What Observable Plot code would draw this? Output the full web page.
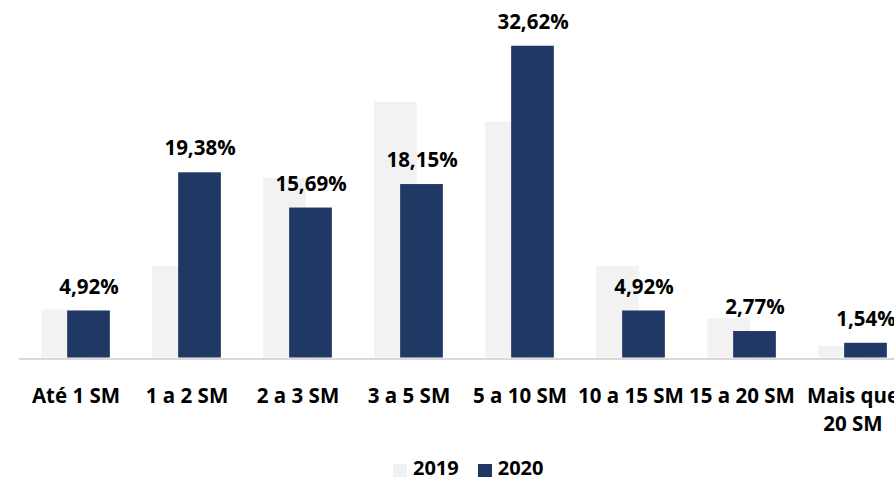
<!DOCTYPE html>
<html><head><meta charset="utf-8">
<script src="https://cdn.jsdelivr.net/npm/d3@7"></script>
<script src="https://cdn.jsdelivr.net/npm/@observablehq/plot@0.6"></script>
<style>
html,body{margin:0;padding:0;background:#fff;overflow:hidden;width:894px;height:479px;position:relative}
#chart{position:absolute;left:0;top:0}
#legend{position:absolute;left:393px;top:458px;display:flex;align-items:flex-start;font-family:"Open Sans";font-weight:700;font-size:20px;color:#000;line-height:20px;height:20px}
#legend .item{display:flex;align-items:flex-start;margin-right:19px}
#legend .sw{width:14px;height:13px;margin-top:6px;margin-right:6px}
</style></head><body>
<div id="chart"></div>
<div id="legend"></div>
<script>
const categories = ["Até 1 SM","1 a 2 SM","2 a 3 SM","3 a 5 SM","5 a 10 SM","10 a 15 SM","15 a 20 SM","Mais que 20 SM"];
const tickLabels = ["Até 1 SM","1 a 2 SM","2 a 3 SM","3 a 5 SM","5 a 10 SM","10 a 15 SM","15 a 20 SM","Mais que\n20 SM"];
const values2019 = [5.0, 9.58, 18.8, 26.75, 24.66, 9.58, 4.1, 1.2];
const values2020 = [4.92, 19.38, 15.69, 18.15, 32.62, 4.92, 2.77, 1.54];
const seriesNames = ["2019","2020"];
const seriesColors = ["#f2f2f2","#203864"];

const data2019 = categories.map((c,i)=>({cat:c, value:values2019[i]}));
const data2020 = categories.map((c,i)=>({cat:c, value:values2020[i]}));
const fmt = v => v.toFixed(2).replace(".", ",") + "%";

const chart = Plot.plot({
  width: 909, height: 440,
  marginLeft: 19, marginRight: 0, marginTop: 23, marginBottom: 82.5,
  style: {fontFamily: "Open Sans", fontSize: "20.5px", fontWeight: 700, color: "#000", background: "transparent", overflow: "visible", maxWidth: "none"},
  x: {domain: categories, padding: 0, axis: null, label: null},
  y: {domain: [0, 35], axis: null},
  marks: [
    Plot.barY(data2019, {x: "cat", y: "value", fill: seriesColors[0], insetLeft: 21.15, insetRight: 47.15}),
    Plot.barY(data2020, {x: "cat", y: "value", fill: seriesColors[1], insetLeft: 47.15, insetRight: 21.15}),
    Plot.ruleY([0], {stroke: "#d9d9d9", strokeWidth: 2, dy: 1}),
    Plot.text(data2020, {x: "cat", y: "value", text: d => fmt(d.value), dx: 13, dy: -24, fill: "#000", fontWeight: 700, fontSize: 20.5}),
    Plot.axisX({anchor: "bottom", label: null, tickSize: 0, tickPadding: 24.5, tickFormat: d => tickLabels[categories.indexOf(d)], lineHeight: 1.38, fontSize: 20.5, fontWeight: 700, fill: "#000"})
  ]
});
chart.style.maxWidth = "none";
document.getElementById("chart").appendChild(chart);

const legend = document.getElementById("legend");
seriesNames.forEach((n,i)=>{
  const it = document.createElement("div"); it.className = "item";
  const sw = document.createElement("div"); sw.className = "sw"; sw.style.background = seriesColors[i];
  const t = document.createElement("span"); t.textContent = n;
  it.appendChild(sw); it.appendChild(t); legend.appendChild(it);
});
</script>
</body></html>
